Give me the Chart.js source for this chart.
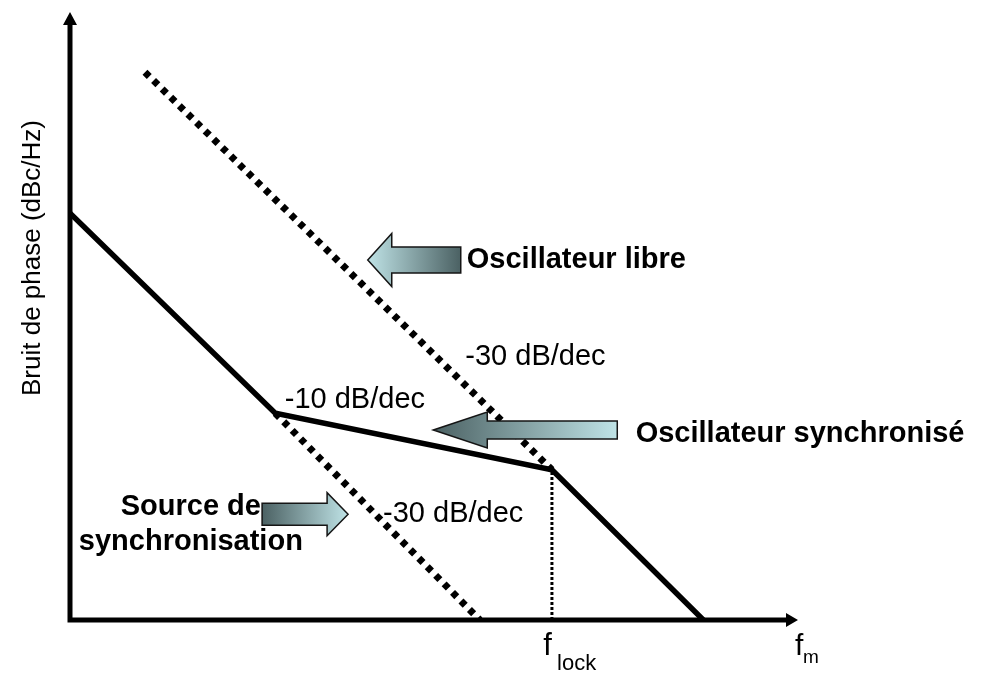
<!DOCTYPE html>
<html>
<head>
<meta charset="utf-8">
<script src="https://cdn.jsdelivr.net/npm/chart.js@4"></script>
<style>
  body { margin: 0; background: #fff; }
</style>
</head>
<body>
<canvas id="chart" width="995" height="673"></canvas>
<script>
// x: offset frequency in decades (arbitrary origin), y: phase noise in dB above the floor
const fLock = 6.62;

const syncX = [0, 2.82, fLock, 8.7];      // oscillateur synchronisé
const syncY = [66.9, 34.0, 24.7, 0];
const freeX = [1.03, fLock];              // oscillateur libre
const freeY = [90.1, 24.7];
const sourceX = [2.82, 5.63];             // source de synchronisation
const sourceY = [34.0, 0];
const lockX = [fLock, fLock];             // marker at f_lock
const lockY = [0, 24.7];

const slopeLabels = ["-30 dB/dec", "-10 dB/dec", "-30 dB/dec"];
const yTitle = "Bruit de phase (dBc/Hz)";

const LIGHT = "#bfe3e6";
const DARK = "#4b6163";

function pts(xs, ys) {
  return xs.map((x, i) => ({ x: x, y: ys[i] }));
}

// block arrow with a horizontal gradient, drawn in pixels around its tip
function blockArrow(ctx, tipX, tipY, dir, len, headLen, headH, shaftH, lightAtTip) {
  const tail = tipX - dir * len;
  const neck = tipX - dir * headLen;
  const g = ctx.createLinearGradient(tipX, 0, tail, 0);
  g.addColorStop(0, lightAtTip ? LIGHT : DARK);
  g.addColorStop(1, lightAtTip ? DARK : LIGHT);
  ctx.beginPath();
  ctx.moveTo(tipX, tipY);
  ctx.lineTo(neck, tipY - headH);
  ctx.lineTo(neck, tipY - shaftH);
  ctx.lineTo(tail, tipY - shaftH);
  ctx.lineTo(tail, tipY + shaftH);
  ctx.lineTo(neck, tipY + shaftH);
  ctx.lineTo(neck, tipY + headH);
  ctx.closePath();
  ctx.fillStyle = g;
  ctx.fill();
  ctx.lineWidth = 1.5;
  ctx.strokeStyle = "#151515";
  ctx.stroke();
}

const sketch = {
  id: "sketch",
  afterDatasetsDraw(chart) {
    const { ctx, chartArea: a, scales: { x, y } } = chart;
    ctx.save();

    // axes with arrowheads
    ctx.strokeStyle = "#000";
    ctx.fillStyle = "#000";
    ctx.lineWidth = 5;
    ctx.beginPath();
    ctx.moveTo(a.left, a.bottom + 2.5);
    ctx.lineTo(a.left, a.top + 12);
    ctx.moveTo(a.left - 2.5, a.bottom);
    ctx.lineTo(a.right - 11, a.bottom);
    ctx.stroke();
    ctx.beginPath();
    ctx.moveTo(a.left, a.top);
    ctx.lineTo(a.left - 7, a.top + 13);
    ctx.lineTo(a.left + 7, a.top + 13);
    ctx.closePath();
    ctx.moveTo(a.right, a.bottom);
    ctx.lineTo(a.right - 12, a.bottom - 7);
    ctx.lineTo(a.right - 12, a.bottom + 7);
    ctx.closePath();
    ctx.fill();

    // pointer arrows
    blockArrow(ctx, x.getPixelForValue(4.09), y.getPixelForValue(59.2), -1, 93, 24, 26.5, 13, true);
    blockArrow(ctx, x.getPixelForValue(4.99), y.getPixelForValue(31.25), -1, 184, 54, 18, 9, false);
    blockArrow(ctx, x.getPixelForValue(3.82), y.getPixelForValue(17.4), 1, 86, 21, 21.5, 11, true);

    // texts
    ctx.fillStyle = "#000";
    ctx.textBaseline = "alphabetic";
    const bold = "bold 29px 'Liberation Sans', Arial, sans-serif";
    const reg = "29px 'Liberation Sans', Arial, sans-serif";
    function text(s, vx, vy, font, align) {
      ctx.font = font;
      ctx.textAlign = align || "left";
      ctx.fillText(s, x.getPixelForValue(vx), y.getPixelForValue(vy));
    }
    text("Oscillateur libre", 5.45, 57.9, bold);
    text("Oscillateur synchronisé", 7.77, 29.3, bold);
    text("Source de", 1.66, 17.3, bold, "center");
    text("synchronisation", 1.66, 11.5, bold, "center");
    text(slopeLabels[0], 5.43, 41.9, reg);
    text(slopeLabels[1], 2.95, 34.9, reg);
    text(slopeLabels[2], 4.30, 16.1, reg);

    // axis names
    text("f", 6.5, -5.76, "31px 'Liberation Sans', Arial, sans-serif");
    text("lock", 6.69, -8.2, "22px 'Liberation Sans', Arial, sans-serif");
    text("f", 9.96, -5.76, "30px 'Liberation Sans', Arial, sans-serif");
    text("m", 10.07, -7.1, "19px 'Liberation Sans', Arial, sans-serif");

    ctx.save();
    ctx.translate(40, (a.top + a.bottom) / 2 - 58);
    ctx.rotate(-Math.PI / 2);
    ctx.font = "26px 'Liberation Sans', Arial, sans-serif";
    ctx.textAlign = "center";
    ctx.fillText(yTitle, 0, 0);
    ctx.restore();

    ctx.restore();
  }
};

new Chart(document.getElementById("chart"), {
  type: "line",
  data: {
    datasets: [
      { data: pts(syncX, syncY), borderColor: "#000", borderWidth: 5.5 },
      { data: pts(freeX, freeY), borderColor: "#000", borderWidth: 7, borderDash: [6, 6] },
      { data: pts(sourceX, sourceY), borderColor: "#000", borderWidth: 7, borderDash: [6, 6] },
      { data: pts(lockX, lockY), borderColor: "#000", borderWidth: 3, borderDash: [3, 2] }
    ]
  },
  options: {
    responsive: false,
    animation: false,
    layout: { padding: { left: 70, right: 197, top: 12, bottom: 53 } },
    elements: { point: { radius: 0 }, line: { tension: 0, fill: false } },
    plugins: { legend: { display: false }, tooltip: { enabled: false } },
    scales: {
      x: { type: "linear", min: 0, max: 10, display: false },
      y: { min: 0, max: 100, display: false }
    }
  },
  plugins: [sketch]
});
</script>
</body>
</html>
